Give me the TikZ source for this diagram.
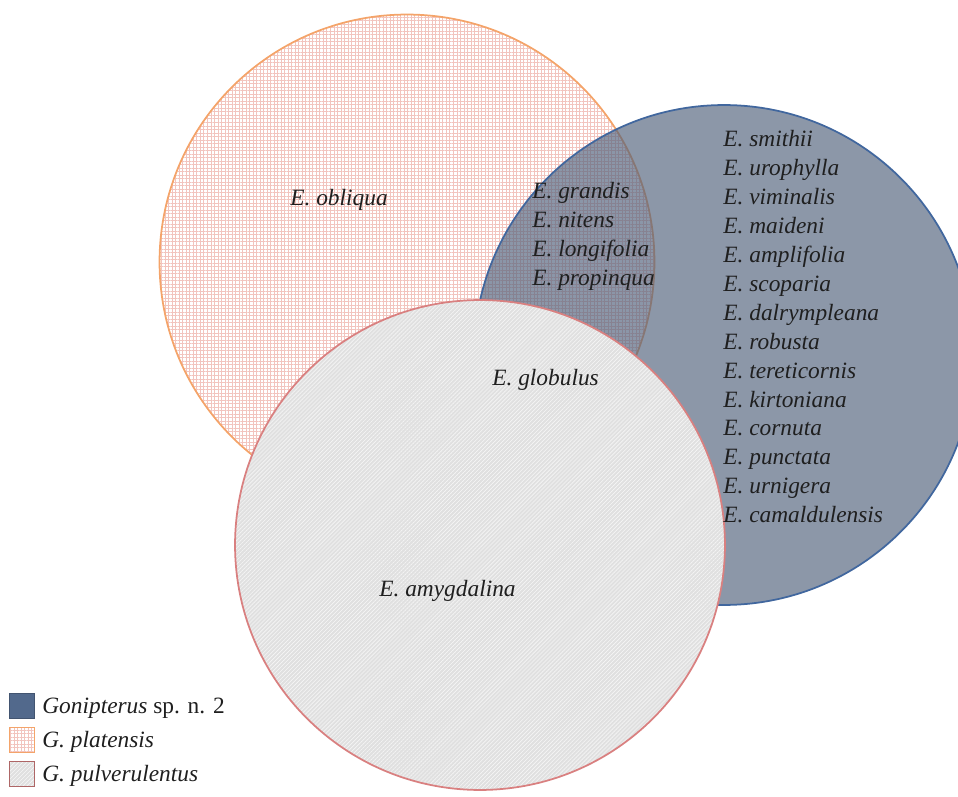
\documentclass[tikz,border=0pt]{standalone}
\usepackage{fontspec}
\setmainfont{Liberation Serif}
\usetikzlibrary{patterns.meta}

\definecolor{gonblue}{HTML}{4E5F7A}
\definecolor{gonedge}{HTML}{41679E}
\definecolor{gonkey}{HTML}{52698C}
\definecolor{platorange}{HTML}{F4A46A}
\definecolor{platgrid}{HTML}{F2C4BE}
\definecolor{pulvgrey}{HTML}{E0E0E0}
\definecolor{pulvedge}{HTML}{D98080}

\begin{document}
\begin{tikzpicture}[
    x=0.02cm, y=-0.02cm,
    setcirc/.style={circle, inner sep=0pt, line width=1pt},
    platfill/.style={preaction={fill=white},
                     pattern={Hatch[angle=0, distance=2pt, line width=0.35pt]},
                     pattern color=platgrid, draw=platorange},
    pulvfill/.style={preaction={fill=pulvgrey},
                     pattern={Lines[angle=45, distance=1.6pt, line width=0.35pt]},
                     pattern color=white!70!pulvgrey, draw=pulvedge},
    gonfill/.style={draw=gonedge, fill=gonblue, fill opacity=0.65, draw opacity=1},
    sp/.style={font=\fontsize{13.3}{16}\selectfont\itshape, text=black!88,
               anchor=base west, inner sep=0pt},
    lkey/.style={rectangle, minimum size=0.5cm, inner sep=0pt, line width=1pt},
    ltext/.style={font=\fontsize{13.3}{16}\selectfont, text=black!88,
                  anchor=base west, inner sep=0pt},
]

\useasboundingbox (0,0) rectangle (958,797);

% G. platensis
\node[setcirc, platfill, minimum size=9.9cm] (plat) at (407,262) {};

% Gonipterus sp. n. 2 (transparent, over G. platensis)
\node[setcirc, gonfill, minimum size=10cm] (gon) at (724,355) {};

% G. pulverulentus
\node[setcirc, pulvfill, minimum size=9.8cm] (pulv) at (480,545) {};

% Host species
\node[sp] (obliqua) at (290,206) {E. obliqua};
\node[sp] (globulus) at (492,386) {E. globulus};
\node[sp] (amygdalina) at (379,597) {E. amygdalina};

\foreach \name [count=\i] in {grandis, nitens, longifolia, propinqua}
    \node[sp] (mid\i) at (532, {199+28.7*(\i-1)}) {E. \name};

\foreach \name [count=\i] in {smithii, urophylla, viminalis, maideni, amplifolia,
        scoparia, dalrympleana, robusta, tereticornis, kirtoniana, cornuta,
        punctata, urnigera, camaldulensis}
    \node[sp] (right\i) at (723, {147+28.9*(\i-1)}) {E. \name};

% Legend
\node[lkey, draw=gonkey!80!black, fill=gonkey] (keygon) at (22,706) {};
\node[ltext] (labgon) at (42,713) {\textit{Gonipterus} sp. n. 2};

\node[lkey, platfill] (keyplat) at (22,740) {};
\node[ltext] (labplat) at (42,747) {\textit{G. platensis}};

\node[lkey, pulvfill, draw=pulvedge!80!black] (keypulv) at (22,774) {};
\node[ltext] (labpulv) at (42,781) {\textit{G. pulverulentus}};

\end{tikzpicture}
\end{document}
